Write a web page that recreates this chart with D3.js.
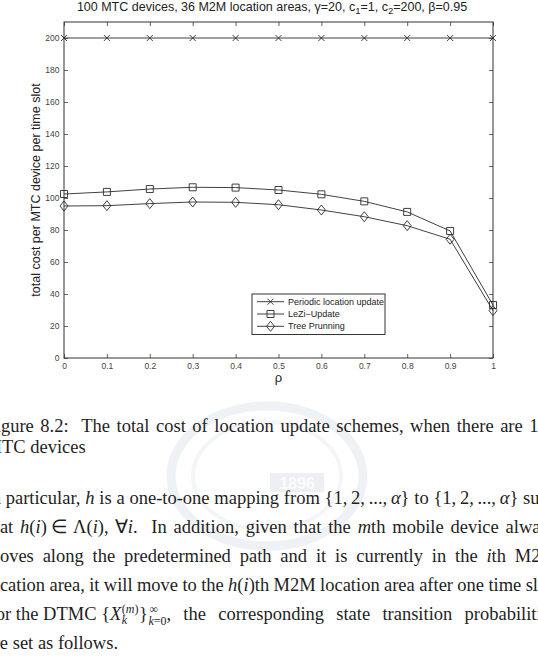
<!DOCTYPE html>
<html>
<head>
<meta charset="utf-8">
<script src="https://cdn.jsdelivr.net/npm/d3@7"></script>
<style>
  body { margin: 0; background: #fff; }
  svg { display: block; }
</style>
</head>
<body>
<svg id="page" width="538" height="662"></svg>
<script>
// values
var rho = [0, 0.1, 0.2, 0.3, 0.4, 0.5, 0.6, 0.7, 0.8, 0.9, 1];
var periodic = [200, 200, 200, 200, 200, 200, 200, 200, 200, 200, 200];
var lezi = [102.5, 103.8, 105.6, 106.7, 106.5, 105.0, 102.3, 97.9, 91.3, 79.4, 33.1];
var tree = [95.0, 95.2, 96.5, 97.5, 97.3, 95.8, 92.5, 88.3, 82.7, 74.2, 29.6];
var seriesNames = ["Periodic location update", "LeZi\u2212Update", "Tree Prunning"];
var xTicks = [0, 0.1, 0.2, 0.3, 0.4, 0.5, 0.6, 0.7, 0.8, 0.9, 1];
var xTickLabels = ["0", "0.1", "0.2", "0.3", "0.4", "0.5", "0.6", "0.7", "0.8", "0.9", "1"];
var yTicks = [0, 20, 40, 60, 80, 100, 120, 140, 160, 180, 200];

var svg = d3.select("#page");
var ink = "#2b2b2b";

var x = d3.scaleLinear().domain([0, 1]).range([64, 493]);
var y = d3.scaleLinear().domain([0, 210]).range([358, 22]);

// faint watermark behind the text
function draw_watermark(){
  var g = svg.append("g").attr("class", "watermark");
  g.append("ellipse").attr("cx", 267).attr("cy", 476).attr("rx", 96).attr("ry", 70)
    .attr("fill", "none").attr("stroke", "#eff2f5").attr("stroke-width", 9);
  g.append("ellipse").attr("cx", 267).attr("cy", 476).attr("rx", 74).attr("ry", 54)
    .attr("fill", "none").attr("stroke", "#f3f5f7").attr("stroke-width", 4);
  g.append("rect").attr("x", 270).attr("y", 473).attr("width", 54).attr("height", 19)
    .attr("fill", "#eceff3");
  g.append("text").attr("x", 297).attr("y", 489).attr("text-anchor", "middle")
    .attr("font-family", "Liberation Sans, Arial, sans-serif").attr("font-weight", "bold")
    .attr("font-size", "16px").attr("fill", "#fbfcfd").text("1896");
}

function marker_path(kind){
  if (kind == "x") return "M-3,-3L3,3M3,-3L-3,3";
  if (kind == "square") return "M-3.5,-3.5H3.5V3.5H-3.5Z";
  return "M0,-5L4,0L0,5L-4,0Z";
}

function draw_axes(){
  var fontAxis = "Liberation Sans, Arial, Helvetica, sans-serif";

  var bottom = d3.axisBottom(x).tickValues(xTicks)
    .tickFormat(function(d, i){ return xTickLabels[i]; })
    .tickSizeInner(-4).tickSizeOuter(0).tickPadding(5);
  var top = d3.axisTop(x).tickValues(xTicks).tickFormat("")
    .tickSizeInner(-4).tickSizeOuter(0);
  var left = d3.axisLeft(y).tickValues(yTicks).tickFormat(d3.format("d"))
    .tickSizeInner(-4).tickSizeOuter(0).tickPadding(4.5);
  var right = d3.axisRight(y).tickValues(yTicks).tickFormat("")
    .tickSizeInner(-4).tickSizeOuter(0);

  var gs = [
    svg.append("g").attr("transform", "translate(0," + y(0) + ")").call(bottom),
    svg.append("g").attr("transform", "translate(0," + y(210) + ")").call(top),
    svg.append("g").attr("transform", "translate(" + x(0) + ",0)").call(left),
    svg.append("g").attr("transform", "translate(" + x(1) + ",0)").call(right)
  ];
  gs.forEach(function(g){
    g.select(".domain").remove();
    g.selectAll("line").attr("stroke", "#3a3a3a").attr("stroke-width", 0.8);
    g.selectAll("text").attr("font-family", fontAxis).attr("font-size", "8.5px").attr("fill", "#444");
  });

  svg.append("rect")
    .attr("x", x(0)).attr("y", y(210))
    .attr("width", x(1) - x(0)).attr("height", y(0) - y(210))
    .attr("fill", "none").attr("stroke", "#333").attr("stroke-width", 1);

  // title with subscripts
  var title = svg.append("text").attr("x", 272).attr("y", 11)
    .attr("text-anchor", "middle").attr("font-family", fontAxis)
    .attr("font-size", "12.5px").attr("fill", "#222");
  title.append("tspan").text("100 MTC devices, 36 M2M location areas, \u03b3=20, c");
  title.append("tspan").attr("dy", 3).attr("font-size", "9.5px").text("1");
  title.append("tspan").attr("dy", -3).text("=1, c");
  title.append("tspan").attr("dy", 3).attr("font-size", "9.5px").text("2");
  title.append("tspan").attr("dy", -3).text("=200, \u03b2=0.95");

  svg.append("text")
    .attr("transform", "translate(36," + (y(0) + y(210)) / 2 + ") rotate(-90)")
    .attr("text-anchor", "middle").attr("dy", "0.35em")
    .attr("font-family", fontAxis).attr("font-size", "12.5px").attr("fill", "#222")
    .text("total cost per MTC device per time slot");

  svg.append("text")
    .attr("x", (x(0) + x(1)) / 2).attr("y", 382)
    .attr("text-anchor", "middle")
    .attr("font-family", fontAxis).attr("font-size", "13px").attr("fill", "#222")
    .text("\u03c1");
}

function draw_series(){
  var all = [
    {values: periodic, marker: "x"},
    {values: lezi, marker: "square"},
    {values: tree, marker: "diamond"}
  ];
  var line = d3.line()
    .x(function(d){ return x(d[0]); })
    .y(function(d){ return y(d[1]); });

  all.forEach(function(s){
    var pts = rho.map(function(r, i){ return [r, s.values[i]]; });
    svg.append("path").datum(pts)
      .attr("d", line)
      .attr("fill", "none").attr("stroke", ink).attr("stroke-width", 0.9);
    svg.append("g").selectAll("path").data(pts).enter().append("path")
      .attr("transform", function(d){ return "translate(" + x(d[0]) + "," + y(d[1]) + ")"; })
      .attr("d", marker_path(s.marker))
      .attr("fill", "none").attr("stroke", ink).attr("stroke-width", 0.9);
  });

  // legend
  var lg = svg.append("g").attr("class", "legend");
  lg.append("rect").attr("x", 252).attr("y", 294).attr("width", 133).attr("height", 40.5)
    .attr("fill", "#fff").attr("stroke", "#333").attr("stroke-width", 1);
  var kinds = ["x", "square", "diamond"];
  for (var i = 0; i < seriesNames.length; i++) {
    var yy = 301.7 + i * 12.3;
    lg.append("line").attr("x1", 257).attr("x2", 284).attr("y1", yy).attr("y2", yy)
      .attr("stroke", ink).attr("stroke-width", 0.9);
    lg.append("path").attr("transform", "translate(270.5," + yy + ")")
      .attr("d", marker_path(kinds[i]))
      .attr("fill", "none").attr("stroke", ink).attr("stroke-width", 0.9);
    lg.append("text").attr("x", 288).attr("y", yy).attr("dy", "0.35em")
      .attr("font-family", "Liberation Sans, Arial, sans-serif").attr("font-size", "9px")
      .attr("fill", "#222").text(seriesNames[i]);
  }
}

// page text below the figure (cut at both sides like the scan)
var serif = "Liberation Serif, Times New Roman, serif";
var bodySize = 18.5;
var leftEdge = -14.5;
var rightEdge = 557;
var thin = "\u2009", mid = "\u2005";

// justify like LaTeX: stretch only the word gaps (math spaces stay fixed)
function add_line(parts, xStart, yBase, width, size){
  var t = svg.append("text").attr("x", xStart).attr("y", yBase)
    .attr("font-family", serif).attr("font-size", (size || bodySize) + "px").attr("fill", "#1e1e1e")
    .style("white-space", "pre");
  var spaces = 0;
  parts.forEach(function(p){
    var sp = t.append("tspan").text(p[0]);
    if (p[1] == "i") sp.attr("font-style", "italic");
    spaces += (p[0].match(/ /g) || []).length;
  });
  if (width && spaces > 0) {
    var natural = t.node().getComputedTextLength();
    t.style("word-spacing", ((width - natural) / spaces) + "px");
  }
  return t;
}

function end_of(t, xStart){
  return xStart + t.node().getComputedTextLength();
}

function draw_text(){
  var set = "{1," + thin + "2," + thin + "...," + thin;
  add_line([["Figure 8.2:  The total cost of location update schemes, when there are 100"]],
    leftEdge, 432, rightEdge - leftEdge);
  add_line([["MTC devices"]], leftEdge, 453, null);

  add_line([["In particular, "], ["h", "i"], [" is a one-to-one mapping from " + set], ["\u03b1", "i"],
            ["} to " + set], ["\u03b1", "i"], ["} such"]], leftEdge, 503.5, rightEdge - leftEdge);
  add_line([["that "], ["h", "i"], ["("], ["i", "i"], [")" + mid + "\u2208" + mid + "\u039b("], ["i", "i"],
            ["),\u2004\u2200"], ["i", "i"],
            [".  In addition, given that the "], ["m", "i"], ["th mobile device always"]],
            leftEdge, 532.5, rightEdge - leftEdge);
  add_line([["moves along the predetermined path and it is currently in the "], ["i", "i"], ["th M2M"]],
            leftEdge, 561.5, rightEdge - leftEdge);
  add_line([["location area, it will move to the "], ["h", "i"], ["("], ["i", "i"],
            [")th M2M location area after one time slot."]], leftEdge, 591, rightEdge - leftEdge);

  // DTMC line: stacked scripts placed after the measured base text
  var yb = 620;
  var a = add_line([["For the DTMC {"], ["X", "i"]], leftEdge, yb, null);
  var ax = end_of(a, leftEdge) + 0.5;
  var sup = add_line([["("], ["m", "i"], [")"]], ax, yb - 7.5, null, 12);
  add_line([["k", "i"]], ax, yb + 4, null, 12);
  var bx = end_of(sup, ax) + 0.5;
  var brace = add_line([["}"]], bx, yb, null);
  var cx = end_of(brace, bx) + 0.5;
  add_line([["\u221e"]], cx + 1, yb - 7, null, 12);
  var sub = add_line([["k", "i"], ["=0"]], cx, yb + 4.5, null, 12);
  var dx = end_of(sub, cx);
  add_line([[", the corresponding state transition probabilities"]], dx, yb, rightEdge - dx);

  add_line([["are set as follows."]], leftEdge, 649, null);
}

draw_watermark();
draw_axes();
draw_series();
draw_text();
</script>
</body>
</html>
